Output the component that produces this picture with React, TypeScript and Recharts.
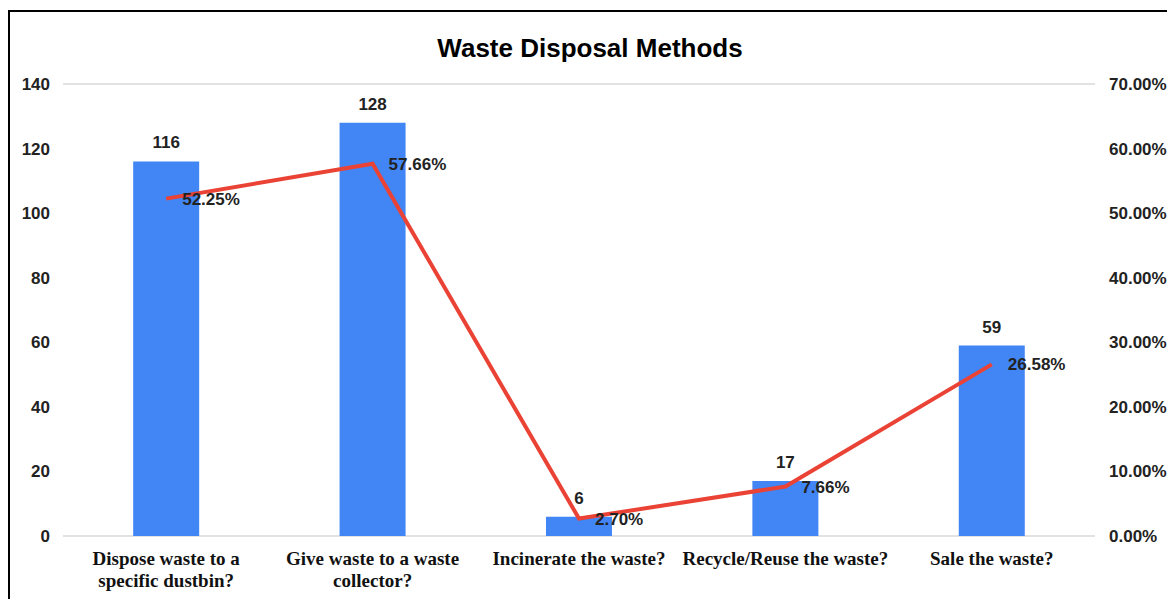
import { ComposedChart, Bar, Line, XAxis, YAxis, CartesianGrid, LabelList } from 'recharts'

const categories = [
  'Dispose waste to a specific dustbin?',
  'Give waste to a waste collector?',
  'Incinerate the waste?',
  'Recycle/Reuse the waste?',
  'Sale the waste?',
]
const counts = [116, 128, 6, 17, 59]
const percents = [52.25, 57.66, 2.7, 7.66, 26.58]
const leftTicks = [0, 20, 40, 60, 80, 100, 120, 140]
const rightTicks = [0, 10, 20, 30, 40, 50, 60, 70]

const data = categories.map((name, i) => ({
  name,
  count: counts[i],
  percent: percents[i],
}))

const SANS = '"Liberation Sans", Arial, sans-serif'
const SERIF = '"Liberation Serif", "Times New Roman", serif'
const CAT_FONT = `bold 19px ${SERIF}`

let ctx: CanvasRenderingContext2D | null = null
function measure(s: string) {
  if (!ctx) ctx = document.createElement('canvas').getContext('2d')
  if (!ctx) return s.length * 9
  ctx.font = CAT_FONT
  return ctx.measureText(s).width
}

// greedy word wrap, the way sheets breaks the category names
function wrap(label: string, maxWidth: number) {
  const words = label.split(' ')
  const lines: string[] = []
  let cur = ''
  for (const w of words) {
    const next = cur ? `${cur} ${w}` : w
    if (cur && measure(next) > maxWidth) {
      lines.push(cur)
      cur = w
    } else {
      cur = next
    }
  }
  if (cur) lines.push(cur)
  return lines
}

function CategoryTick(props: any) {
  const { x, y, payload } = props
  const lines = wrap(String(payload.value), 207)
  return (
    <text
      x={x}
      y={y}
      textAnchor="middle"
      fontFamily={SERIF}
      fontWeight="bold"
      fontSize={19}
      fill="#111"
    >
      {lines.map((line, i) => (
        <tspan key={i} x={x} dy={i === 0 ? 15 : 22}>
          {line}
        </tspan>
      ))}
    </text>
  )
}

export default function App() {
  return (
    <div style={{ position: 'absolute', left: 0, top: 0, width: 1167, height: 599, background: '#fff' }}>
      {/* frame edges as in the screenshot */}
      <div style={{ position: 'absolute', left: 8, top: 10, width: 1159, height: 2, background: '#000' }} />
      <div style={{ position: 'absolute', left: 8, top: 10, width: 2, height: 589, background: '#000' }} />
      <div
        style={{
          position: 'absolute',
          left: 0,
          width: 1180,
          top: 33,
          textAlign: 'center',
          fontFamily: SANS,
          fontWeight: 'bold',
          fontSize: 26,
          color: '#000',
        }}
      >
        Waste Disposal Methods
      </div>
      <ComposedChart
        width={1167}
        height={599}
        data={data}
        margin={{ top: 84, right: 0, bottom: 0, left: 0 }}
        barCategoryGap="34%"
      >
        <CartesianGrid vertical={false} stroke="#d9d9d9" strokeWidth={1.5} />
        <XAxis
          dataKey="name"
          axisLine={false}
          tickLine={false}
          tickSize={0}
          tickMargin={14}
          height={63}
          interval={0}
          tick={<CategoryTick />}
        />
        <YAxis
          yAxisId="left"
          domain={[0, 140]}
          ticks={leftTicks}
          width={63}
          axisLine={false}
          tickLine={false}
          tickSize={0}
          tickMargin={13}
          tick={{ fontFamily: SANS, fontSize: 17, fontWeight: 'bold', fill: '#222' }}
        />
        <YAxis
          yAxisId="right"
          orientation="right"
          domain={[0, 70]}
          ticks={rightTicks}
          width={72}
          axisLine={false}
          tickLine={false}
          tickSize={0}
          tickMargin={14}
          tickFormatter={(v: number) => `${v.toFixed(2)}%`}
          tick={{ fontFamily: SANS, fontSize: 17, fontWeight: 'bold', fill: '#222', textAnchor: 'start' }}
        />
        <Bar yAxisId="left" dataKey="count" fill="#4285f4" isAnimationActive={false}>
          <LabelList
            dataKey="count"
            position="top"
            offset={13}
            style={{ fontFamily: SANS, fontSize: 17, fontWeight: 'bold', fill: '#222' }}
          />
        </Bar>
        <Line
          yAxisId="right"
          dataKey="percent"
          stroke="#ea4335"
          strokeWidth={4}
          dot={false}
          activeDot={false}
          isAnimationActive={false}
        >
          <LabelList
            dataKey="percent"
            position="right"
            offset={16}
            formatter={(v: any) => `${Number(v).toFixed(2)}%`}
            style={{ fontFamily: SANS, fontSize: 17, fontWeight: 'bold', fill: '#222' }}
          />
        </Line>
      </ComposedChart>
    </div>
  )
}
